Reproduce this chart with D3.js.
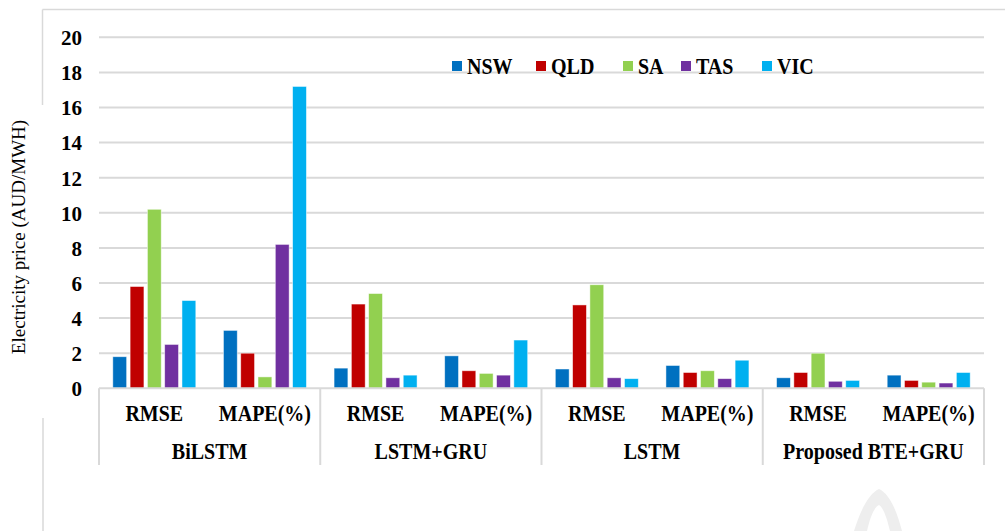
<!DOCTYPE html>
<html>
<head>
<meta charset="utf-8">
<script src="https://cdn.jsdelivr.net/npm/d3@7"></script>
<style>
  html, body { margin: 0; padding: 0; background: #fff; }
  svg { display: block; }
  svg text { font-family: "Liberation Serif", "Times New Roman", Tinos, "DejaVu Serif", serif; }
</style>
</head>
<body>
<svg id="chart" width="1005" height="531"></svg>
<script>
// Forecast error of each model, per metric, for the five NEM regions
const models = ["BiLSTM", "LSTM+GRU", "LSTM", "Proposed BTE+GRU"];
const metrics = ["RMSE", "MAPE(%)"];
const regions = ["NSW", "QLD", "SA", "TAS", "VIC"];
const colors = ["#0070C0", "#C00000", "#92D050", "#7030A0", "#00B0F0"];

// one array per region, ordered model by model: RMSE then MAPE
const NSW = [1.8, 3.3, 1.15, 1.85, 1.1, 1.3, 0.6, 0.75];
const QLD = [5.8, 2.0, 4.8, 1.0, 4.75, 0.9, 0.9, 0.45];
const SA  = [10.2, 0.65, 5.4, 0.85, 5.9, 1.0, 2.0, 0.35];
const TAS = [2.5, 8.2, 0.6, 0.75, 0.6, 0.55, 0.4, 0.3];
const VIC = [5.0, 17.2, 0.75, 2.75, 0.55, 1.6, 0.45, 0.9];
const seriesValues = [NSW, QLD, SA, TAS, VIC];

const yTicks = [0, 2, 4, 6, 8, 10, 12, 14, 16, 18, 20];
const yTitle = "Electricity price (AUD/MWH)";

const svg = d3.select("#chart");
const plotL = 99, plotR = 984, plotT = 37.3, plotB = 388.3;
const serif = '"Liberation Serif", "Times New Roman", Tinos, "DejaVu Serif", serif';
const narrow = 0.87; // condensed label lettering

// outer frame (top edge and the visible parts of the left edge)
svg.append("line").attr("x1", 42.5).attr("x2", 1005).attr("y1", 9.5).attr("y2", 9.5)
  .attr("stroke", "#d9d9d9").attr("stroke-width", 1.5);
svg.append("line").attr("x1", 42.5).attr("x2", 42.5).attr("y1", 9.5).attr("y2", 105)
  .attr("stroke", "#d9d9d9").attr("stroke-width", 1.5);
svg.append("line").attr("x1", 43).attr("x2", 43).attr("y1", 418).attr("y2", 531)
  .attr("stroke", "#d9d9d9").attr("stroke-width", 1.5);

// category keys: model|metric
const cats = [];
models.forEach(m => metrics.forEach(k => cats.push(m + "|" + k)));

const x0 = d3.scaleBand().domain(cats).range([plotL, plotR]).padding(0);
const xg = d3.scaleBand().domain(models).range([plotL, plotR]).padding(0);
const y = d3.scaleLinear().domain([0, 20]).range([plotB, plotT]);

// gridlines
svg.append("g").selectAll("line").data(yTicks.filter(t => t > 0)).join("line")
  .attr("x1", plotL).attr("x2", plotR)
  .attr("y1", d => y(d)).attr("y2", d => y(d))
  .attr("stroke", "#d9d9d9").attr("stroke-width", 2);

// y axis labels
const yAxis = d3.axisLeft(y).tickValues(yTicks).tickSize(0).tickPadding(0).tickFormat(d3.format("d"));
const ya = svg.append("g").attr("transform", "translate(82,0)").call(yAxis)
  .attr("font-family", serif);
ya.select(".domain").remove();
ya.selectAll("text").style("font-family", serif).attr("font-weight", "bold")
  .attr("font-size", 21).attr("fill", "#000").attr("dy", "0.35em");

// y title
svg.append("text").attr("transform", "translate(25,237) rotate(-90)")
  .attr("text-anchor", "middle").attr("font-size", 19).attr("fill", "#000")
  .style("font-family", serif)
  .text(yTitle);

// bars
const inner = d3.scaleBand().domain(regions).paddingInner(0.2).paddingOuter(0);
const barData = [];
seriesValues.forEach((vals, si) => vals.forEach((v, ci) => barData.push({ s: regions[si], si, c: cats[ci], v })));

svg.append("g").selectAll("rect").data(barData).join("rect")
  .attr("x", d => {
    const c = x0(d.c) + x0.bandwidth() / 2;
    inner.range([c - 41.5, c + 41.5]);
    return inner(d.s);
  })
  .attr("width", () => inner.bandwidth())
  .attr("y", d => y(d.v))
  .attr("height", d => y(0) - y(d.v))
  .attr("fill", d => colors[d.si])
  .attr("stroke", "rgba(255,255,255,0.6)").attr("stroke-width", 0.8);

// category axis: baseline, group separators, labels
svg.append("line").attr("x1", plotL).attr("x2", plotR).attr("y1", plotB).attr("y2", plotB)
  .attr("stroke", "#d9d9d9").attr("stroke-width", 2);
const seps = models.map(m => xg(m)).concat([plotR]);
svg.append("g").selectAll("line").data(seps).join("line")
  .attr("x1", d => d).attr("x2", d => d).attr("y1", plotB).attr("y2", 465)
  .attr("stroke", "#d9d9d9").attr("stroke-width", 2);

svg.append("g").selectAll("text").data(cats).join("text")
  .attr("transform", d => `translate(${x0(d) + x0.bandwidth() / 2},421) scale(${narrow},1)`)
  .attr("text-anchor", "middle").attr("font-weight", "bold").attr("font-size", 23)
  .style("font-family", serif)
  .text(d => d.split("|")[1]);

svg.append("g").selectAll("text").data(models).join("text")
  .attr("transform", d => `translate(${xg(d) + xg.bandwidth() / 2},459) scale(${narrow},1)`)
  .attr("text-anchor", "middle").attr("font-weight", "bold").attr("font-size", 23)
  .style("font-family", serif)
  .text(d => d);

// legend
const legendX = [452, 536, 623, 681, 762];
const lg = svg.append("g").selectAll("g").data(regions).join("g")
  .attr("transform", (d, i) => `translate(${legendX[i]},61)`);
lg.append("rect").attr("width", 10).attr("height", 10).attr("fill", (d, i) => colors[i]);
lg.append("text").attr("transform", `translate(15,5) scale(${narrow},1)`).attr("dy", "0.35em")
  .attr("font-weight", "bold").attr("font-size", 23)
  .style("font-family", serif).text(d => d);

// faint publisher mark, lower right
svg.append("path")
  .attr("d", "M854,531 C860,512 868,494 879,489 C890,494 897,512 902,531 L890,531 C887,518 883,507 879,505 C874,507 870,518 867,531 Z")
  .attr("fill", "#eeeeee");
</script>
</body>
</html>
